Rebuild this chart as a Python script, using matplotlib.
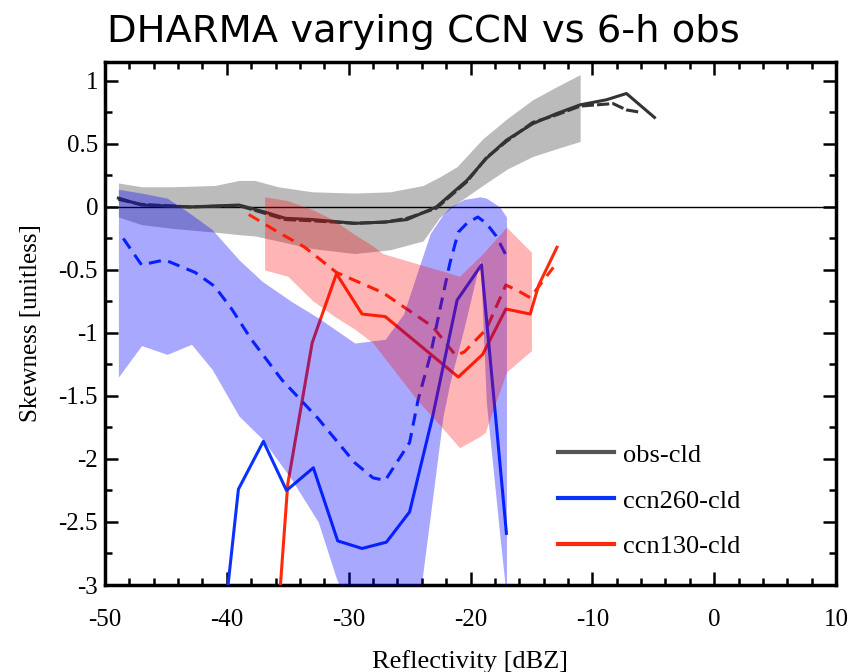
import numpy as np
import matplotlib
matplotlib.use("Agg")
import matplotlib.pyplot as plt
from matplotlib.ticker import FixedLocator, MultipleLocator

# values
obs_x = [-48.9, -47.0, -43.0, -39.0, -36.9, -35.2, -33.0, -29.5, -27.0, -25.2,
         -22.8, -20.3, -18.7, -17.05, -14.9, -12.95, -11.0, -8.85, -7.2, -4.9]
obs_y = [0.07, 0.015, 0.0, 0.015, -0.04, -0.09, -0.1, -0.13, -0.12, -0.1,
         0.0, 0.21, 0.385, 0.53, 0.66, 0.74, 0.81, 0.85, 0.9, 0.71]
obs_dash_x = [-48.9, -47.0, -43.0, -39.0, -36.9, -35.2, -33.0, -29.5, -27.0, -25.2,
              -22.8, -20.3, -18.7, -17.05, -14.9, -12.95, -11.0, -8.3, -7.2, -6.0]
obs_dash_y = [0.06, 0.02, 0.0, 0.01, -0.05, -0.1, -0.11, -0.13, -0.12, -0.09,
              -0.01, 0.2, 0.39, 0.52, 0.67, 0.73, 0.8, 0.82, 0.77, 0.75]

obs_band_x = [-48.9, -47.0, -44.5, -41.0, -39.0, -37.7, -35.8, -33.0, -29.5, -26.6,
              -23.9, -22.5, -21.1, -19.0, -17.0, -14.9, -13.0, -11.0]
obs_band_hi = [0.19, 0.16, 0.16, 0.17, 0.21, 0.21, 0.16, 0.12, 0.11, 0.12,
               0.17, 0.24, 0.32, 0.54, 0.70, 0.85, 0.95, 1.05]
obs_band_lo = [-0.08, -0.14, -0.17, -0.2, -0.22, -0.23, -0.27, -0.33, -0.37, -0.34,
               -0.27, -0.08, 0.03, 0.17, 0.30, 0.40, 0.46, 0.52]

ccn260_x = [-39.9, -39.05, -37.0, -35.1, -32.9, -30.9, -28.9, -26.9, -25.0, -23.1,
            -21.1, -19.1, -17.05]
ccn260_y = [-3.0, -2.24, -1.86, -2.25, -2.07, -2.65, -2.71, -2.66, -2.42, -1.66,
            -0.74, -0.46, -2.59]
ccn260_dash_x = [-48.5, -47.0, -45.1, -42.6, -41.0, -39.6, -38.0, -35.5, -32.5, -29.5,
                 -28.0, -27.0, -25.0, -24.3, -23.3, -22.5, -21.7, -21.0, -20.3, -19.4,
                 -18.7, -17.9, -17.05]
ccn260_dash_y = [-0.25, -0.46, -0.42, -0.52, -0.63, -0.81, -1.05, -1.37, -1.68, -2.03,
                 -2.15, -2.17, -1.87, -1.53, -1.18, -0.81, -0.45, -0.2, -0.13, -0.08,
                 -0.13, -0.23, -0.39]

ccn260_band_x = [-48.9, -47.0, -44.9, -42.9, -41.2, -39.0, -37.1, -34.7, -32.5, -31.0,
                 -29.5, -27.0, -25.5, -24.3, -23.3, -22.25, -21.7, -20.5, -19.2, -18.7,
                 -17.6, -17.05]
ccn260_band_hi = [0.14, 0.11, 0.07, -0.06, -0.18, -0.42, -0.59, -0.75, -0.88, -0.98,
                  -1.08, -1.05, -0.85, -0.5, -0.21, -0.06, 0.0, 0.06, 0.08, 0.07,
                  0.0, -0.08]
ccn260_band_lo = [-1.35, -1.10, -1.17, -1.09, -1.29, -1.66, -1.84, -2.16, -2.5, -2.95,
                  -3.3, -3.4, -3.4, -3.2, -2.45, -1.66, -1.4, -0.95, -0.42, -1.55,
                  -2.6, -3.1]

ccn130_x = [-35.6, -35.0, -33.0, -31.0, -28.9, -27.0, -21.0, -19.0, -17.1, -15.1,
            -14.4, -12.9]
ccn130_y = [-3.0, -2.2, -1.08, -0.53, -0.85, -0.87, -1.35, -1.17, -0.81, -0.85,
            -0.62, -0.32]
ccn130_dash_x = [-38.2, -35.8, -33.6, -31.0, -27.2, -23.1, -21.2, -20.5, -18.7, -17.1,
                 -16.2, -15.1, -13.2]
ccn130_dash_y = [-0.06, -0.2, -0.32, -0.52, -0.68, -0.95, -1.18, -1.15, -0.97, -0.62,
                 -0.66, -0.72, -0.48]

ccn130_band_x = [-36.9, -35.0, -33.0, -31.3, -29.5, -28.0, -27.2, -24.4, -22.25, -20.9,
                 -19.2, -18.8, -17.05, -15.0]
ccn130_band_hi = [0.08, 0.05, -0.02, -0.10, -0.22, -0.31, -0.37, -0.45, -0.51, -0.55,
                  -0.39, -0.35, -0.16, -0.36]
ccn130_band_lo = [-0.5, -0.55, -0.74, -0.86, -0.97, -1.08, -1.18, -1.53, -1.76, -1.91,
                  -1.82, -1.79, -1.31, -1.14]

x_ticks = [-50, -40, -30, -20, -10, 0, 10]
y_ticks = [-3, -2.5, -2, -1.5, -1, -0.5, 0, 0.5, 1]
y_tick_labels = ['-3', '-2.5', '-2', '-1.5', '-1', '-0.5', '0', '0.5', '1']

plt.rcParams['font.family'] = 'Liberation Serif'

W, H = 848, 672
fig = plt.figure(figsize=(W / 100, H / 100), dpi=100)
ax = fig.add_axes([105 / W, 1 - 585 / H, (836 - 105) / W, (585 - 62) / H])

gray_c = '#bbbbbb'
obs_c = '#333333'
blue_c = '#0a32ff'
red_c = '#ff2a0a'

ax.fill_between(obs_band_x, obs_band_lo, obs_band_hi, color=gray_c, lw=0, zorder=1)
ax.axhline(0, color='black', lw=1.0, zorder=1.5)

ax.plot(obs_dash_x, obs_dash_y, color=obs_c, lw=2.2, ls=(0, (4, 1)), zorder=2)
ax.plot(obs_x, obs_y, color=obs_c, lw=2.2, zorder=2)

# lines first, then the see-through bands over them (as in the reference)
ax.plot(ccn130_dash_x, ccn130_dash_y, color=red_c, lw=2.2, ls=(0, (4, 2.5)), zorder=3)
ax.plot(ccn130_x, ccn130_y, color=red_c, lw=2.2, zorder=3)
ax.plot(ccn260_dash_x, ccn260_dash_y, color=blue_c, lw=2.2, ls=(0, (4, 2.5)), zorder=3)
ax.plot(ccn260_x, ccn260_y, color=blue_c, lw=2.2, zorder=3)

ax.fill_between(ccn260_band_x, ccn260_band_lo, ccn260_band_hi,
                color='#0000ff', alpha=0.34, lw=0, zorder=4)
ax.fill_between(ccn130_band_x, ccn130_band_lo, ccn130_band_hi,
                color='#ff0000', alpha=0.29, lw=0, zorder=5)

ax.set_xlim(-50, 10)
ax.set_ylim(-3, 1.15)
ax.xaxis.set_major_locator(FixedLocator(x_ticks))
ax.set_xticklabels([str(v) for v in x_ticks])
ax.xaxis.set_minor_locator(MultipleLocator(2))
ax.yaxis.set_major_locator(FixedLocator(y_ticks))
ax.set_yticklabels(y_tick_labels)
ax.yaxis.set_minor_locator(MultipleLocator(0.25))

ax.tick_params(which='both', direction='in', top=True, right=True, width=1.8,
               labelsize=18)
ax.tick_params(which='major', length=9.5)
ax.tick_params(which='minor', length=5)
ax.tick_params(axis='x', pad=17)
ax.tick_params(axis='y', pad=5)
for s in ax.spines.values():
    s.set_linewidth(2.5)

ax.set_xlabel('Reflectivity [dBZ]', fontsize=19, labelpad=14)
ax.set_ylabel('Skewness [unitless]', fontsize=18, labelpad=12)

h_obs = plt.Line2D([], [], color='#555555', lw=3)
h_260 = plt.Line2D([], [], color=blue_c, lw=3)
h_130 = plt.Line2D([], [], color=red_c, lw=3)
ax.legend([h_obs, h_260, h_130], ['obs-cld', 'ccn260-cld', 'ccn130-cld'],
          loc='upper left', bbox_to_anchor=(545 / W, 1 - 430 / H),
          bbox_transform=fig.transFigure, frameon=False, fontsize=19,
          handlelength=2.1, handletextpad=0.35, labelspacing=0.85, borderpad=0)

fig.text(107 / W, 1 - 42 / H, 'DHARMA varying CCN vs 6-h obs',
         family='DejaVu Sans', fontsize=27.7, va='baseline', ha='left')

fig.savefig('out.png', dpi=100)
